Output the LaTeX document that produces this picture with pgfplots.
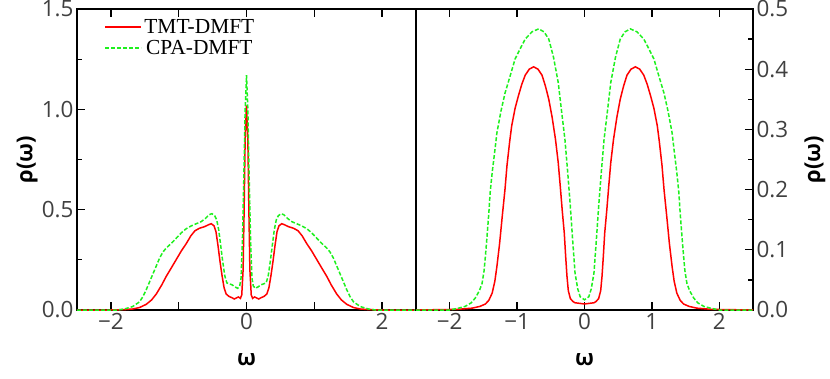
\documentclass[border=0pt]{standalone}
\usepackage{pgfplots}
\pgfplotsset{compat=1.18}
\usepackage{fontspec}
\setmainfont{Open Sans}
\newfontfamily\legendfont{Liberation Serif}
\definecolor{cpagreen}{RGB}{30,240,30}
\definecolor{ticktext}{RGB}{64,64,64}

\pgfplotsset{
  dosplot/.style={
    scale only axis,
    height=301bp,
    xmin=-2.5, xmax=2.5,
    ymin=0,
    axis line style={line width=1.6bp},
    every tick/.style={black, line width=1.3bp},
    tick align=inside,
    major tick length=8bp,
    minor tick length=5bp,
    xtick pos=both,
    xtick={-2,-1,0,1,2},
    tick label style={font=\fontsize{22.5}{24}\selectfont, color=ticktext},
    /pgf/number format/assume math mode=true,
    xlabel={ω},
    ylabel={ρ(ω)},
    every axis x label/.style={at={(axis description cs:0.5,-0.166)}, anchor=center,
      font=\bfseries\fontsize{22}{24}\selectfont},
  },
}

\begin{document}
\begin{tikzpicture}
\path[use as bounding box] (-77bp,-69bp) rectangle (753bp,310bp);

\begin{axis}[dosplot,
  at={(0bp,0bp)}, anchor=south west,
  width=339bp,
  ymax=1.5,
  xticklabels={−2,,0,,2},
  ytick={0,0.5,1,1.5},
  minor y tick num=1,
  ytick pos=left,
  yticklabel style={/pgf/number format/.cd, fixed, fixed zerofill, precision=1},
  every axis y label/.style={at={(axis description cs:-0.147,0.5)}, anchor=center,
    rotate=90, font=\bfseries\fontsize{22}{24}\selectfont},
  legend style={draw=none, fill=none, font=\legendfont\fontsize{21.5}{25}\selectfont,
    at={(axis description cs:0.072,0.98)}, anchor=north west, row sep=1.5bp},
  legend image code/.code={\draw[#1, line width=1.8bp] (0bp,0bp) -- (36bp,0bp);},
]
% TMT-DMFT
\addplot[red, line width=1.5bp] coordinates {
(-2.5,0) (-2.0,0) (-1.8,0.002) (-1.68,0.005) (-1.58,0.012) (-1.48,0.028)
(-1.40,0.05) (-1.33,0.08) (-1.25,0.125) (-1.18,0.17) (-1.10,0.215)
(-1.03,0.255) (-0.96,0.295) (-0.89,0.33) (-0.82,0.37) (-0.76,0.395)
(-0.69,0.408) (-0.62,0.415) (-0.56,0.425) (-0.52,0.43) (-0.48,0.42)
(-0.45,0.39) (-0.42,0.32) (-0.39,0.24) (-0.36,0.17) (-0.33,0.11)
(-0.30,0.08) (-0.26,0.068) (-0.22,0.062) (-0.18,0.055) (-0.15,0.06)
(-0.12,0.065) (-0.09,0.058) (-0.07,0.075) (-0.05,0.2) (-0.035,0.5)
(-0.02,0.85) (0,1.02)
(0.02,0.85) (0.035,0.5) (0.05,0.2) (0.07,0.075) (0.09,0.058)
(0.12,0.065) (0.15,0.06) (0.18,0.055) (0.22,0.062) (0.26,0.068)
(0.30,0.08) (0.33,0.11) (0.36,0.17) (0.39,0.24) (0.42,0.32)
(0.45,0.39) (0.48,0.42) (0.52,0.43) (0.56,0.425) (0.62,0.415)
(0.69,0.408) (0.76,0.395) (0.82,0.37) (0.89,0.33) (0.96,0.295)
(1.03,0.255) (1.10,0.215) (1.18,0.17) (1.25,0.125) (1.33,0.08)
(1.40,0.05) (1.48,0.028) (1.58,0.012) (1.68,0.005) (1.8,0.002)
(2.0,0) (2.5,0)
};
\addlegendentry{TMT-DMFT}
% CPA-DMFT
\addplot[cpagreen, line width=1.5bp, dash pattern=on 4bp off 2bp] coordinates {
(-2.5,0) (-1.9,0) (-1.8,0.005) (-1.68,0.017) (-1.58,0.04) (-1.53,0.065)
(-1.48,0.1) (-1.43,0.14) (-1.38,0.18) (-1.33,0.22) (-1.28,0.26)
(-1.23,0.29) (-1.18,0.31) (-1.10,0.335) (-1.03,0.36) (-0.96,0.385)
(-0.89,0.405) (-0.81,0.42) (-0.74,0.43) (-0.67,0.44) (-0.61,0.455)
(-0.55,0.475) (-0.51,0.48) (-0.47,0.47) (-0.44,0.45) (-0.41,0.40)
(-0.38,0.32) (-0.35,0.24) (-0.32,0.17) (-0.29,0.135) (-0.25,0.13)
(-0.21,0.125) (-0.17,0.115) (-0.13,0.108) (-0.10,0.12) (-0.08,0.16)
(-0.06,0.35) (-0.04,0.65) (-0.02,1.0) (0,1.17)
(0.02,1.0) (0.04,0.65) (0.06,0.35) (0.08,0.16) (0.10,0.12)
(0.13,0.108) (0.17,0.115) (0.21,0.125) (0.25,0.13) (0.29,0.135)
(0.32,0.17) (0.35,0.24) (0.38,0.32) (0.41,0.40) (0.44,0.45)
(0.47,0.47) (0.51,0.48) (0.55,0.475) (0.61,0.455) (0.67,0.44)
(0.74,0.43) (0.81,0.42) (0.89,0.405) (0.96,0.385) (1.03,0.36)
(1.10,0.335) (1.18,0.31) (1.23,0.29) (1.28,0.26) (1.33,0.22)
(1.38,0.18) (1.43,0.14) (1.48,0.1) (1.53,0.065) (1.58,0.04)
(1.68,0.017) (1.8,0.005) (1.9,0) (2.5,0)
};
\addlegendentry{CPA-DMFT}
\end{axis}

\begin{axis}[dosplot,
  at={(339bp,0bp)}, anchor=south west,
  width=337bp,
  ymax=0.5,
  xticklabels={−2,−1,0,1,2},
  ytick={0,0.1,0.2,0.3,0.4,0.5},
  minor y tick num=1,
  ytick pos=right,
  yticklabel pos=right,
  yticklabel style={/pgf/number format/.cd, fixed, fixed zerofill, precision=1},
  every axis y label/.style={at={(axis description cs:1.184,0.5)}, anchor=center,
    rotate=90, font=\bfseries\fontsize{22}{24}\selectfont},
]
\addplot[red, line width=1.5bp] coordinates {
(-2.5,0) (-1.9,0.001) (-1.67,0.003) (-1.55,0.006) (-1.47,0.01) (-1.42,0.016)
(-1.37,0.028) (-1.33,0.048) (-1.30,0.072) (-1.26,0.11) (-1.22,0.156)
(-1.18,0.2) (-1.15,0.24) (-1.11,0.28) (-1.08,0.306) (-1.03,0.335)
(-0.98,0.356) (-0.93,0.375) (-0.88,0.39) (-0.82,0.4) (-0.755,0.404)
(-0.69,0.4) (-0.63,0.39) (-0.58,0.372) (-0.53,0.35) (-0.48,0.32)
(-0.43,0.283) (-0.39,0.245) (-0.36,0.206) (-0.33,0.165) (-0.30,0.128)
(-0.28,0.09) (-0.26,0.056) (-0.24,0.032) (-0.21,0.019) (-0.17,0.014)
(-0.14,0.012) (-0.07,0.011) (0,0.01)
(0.07,0.011) (0.14,0.012) (0.17,0.014) (0.21,0.019) (0.24,0.032)
(0.26,0.056) (0.28,0.09) (0.30,0.128) (0.33,0.165) (0.36,0.206)
(0.39,0.245) (0.43,0.283) (0.48,0.32) (0.53,0.35) (0.58,0.372)
(0.63,0.39) (0.69,0.4) (0.755,0.404) (0.82,0.4) (0.88,0.39)
(0.93,0.375) (0.98,0.356) (1.03,0.335) (1.08,0.306) (1.11,0.28)
(1.15,0.24) (1.18,0.2) (1.22,0.156) (1.26,0.11) (1.30,0.072)
(1.33,0.048) (1.37,0.028) (1.42,0.016) (1.47,0.01) (1.55,0.006)
(1.67,0.003) (1.9,0.001) (2.5,0)
};
\addplot[cpagreen, line width=1.5bp, dash pattern=on 4bp off 2bp] coordinates {
(-2.5,0) (-2.0,0) (-1.87,0.003) (-1.77,0.006) (-1.68,0.012) (-1.62,0.02)
(-1.56,0.032) (-1.52,0.044) (-1.49,0.065) (-1.47,0.09) (-1.45,0.117)
(-1.42,0.16) (-1.40,0.195) (-1.37,0.228) (-1.33,0.265) (-1.30,0.294)
(-1.24,0.33) (-1.18,0.36) (-1.10,0.39) (-1.03,0.417) (-0.95,0.435)
(-0.88,0.45) (-0.78,0.462) (-0.68,0.467) (-0.60,0.462) (-0.53,0.45)
(-0.46,0.42) (-0.39,0.378) (-0.34,0.33) (-0.29,0.283) (-0.25,0.23)
(-0.21,0.172) (-0.175,0.115) (-0.14,0.061) (-0.10,0.035) (-0.064,0.022)
(0,0.017)
(0.064,0.022) (0.10,0.035) (0.14,0.061) (0.175,0.115) (0.21,0.172)
(0.25,0.23) (0.29,0.283) (0.34,0.33) (0.39,0.378) (0.46,0.42)
(0.53,0.45) (0.60,0.462) (0.68,0.467) (0.78,0.462) (0.88,0.45)
(0.95,0.435) (1.03,0.417) (1.10,0.39) (1.18,0.36) (1.24,0.33)
(1.30,0.294) (1.33,0.265) (1.37,0.228) (1.40,0.195) (1.42,0.16)
(1.45,0.117) (1.47,0.09) (1.49,0.065) (1.52,0.044) (1.56,0.032)
(1.62,0.02) (1.68,0.012) (1.77,0.006) (1.87,0.003) (2.0,0) (2.5,0)
};
\end{axis}
\end{tikzpicture}
\end{document}
